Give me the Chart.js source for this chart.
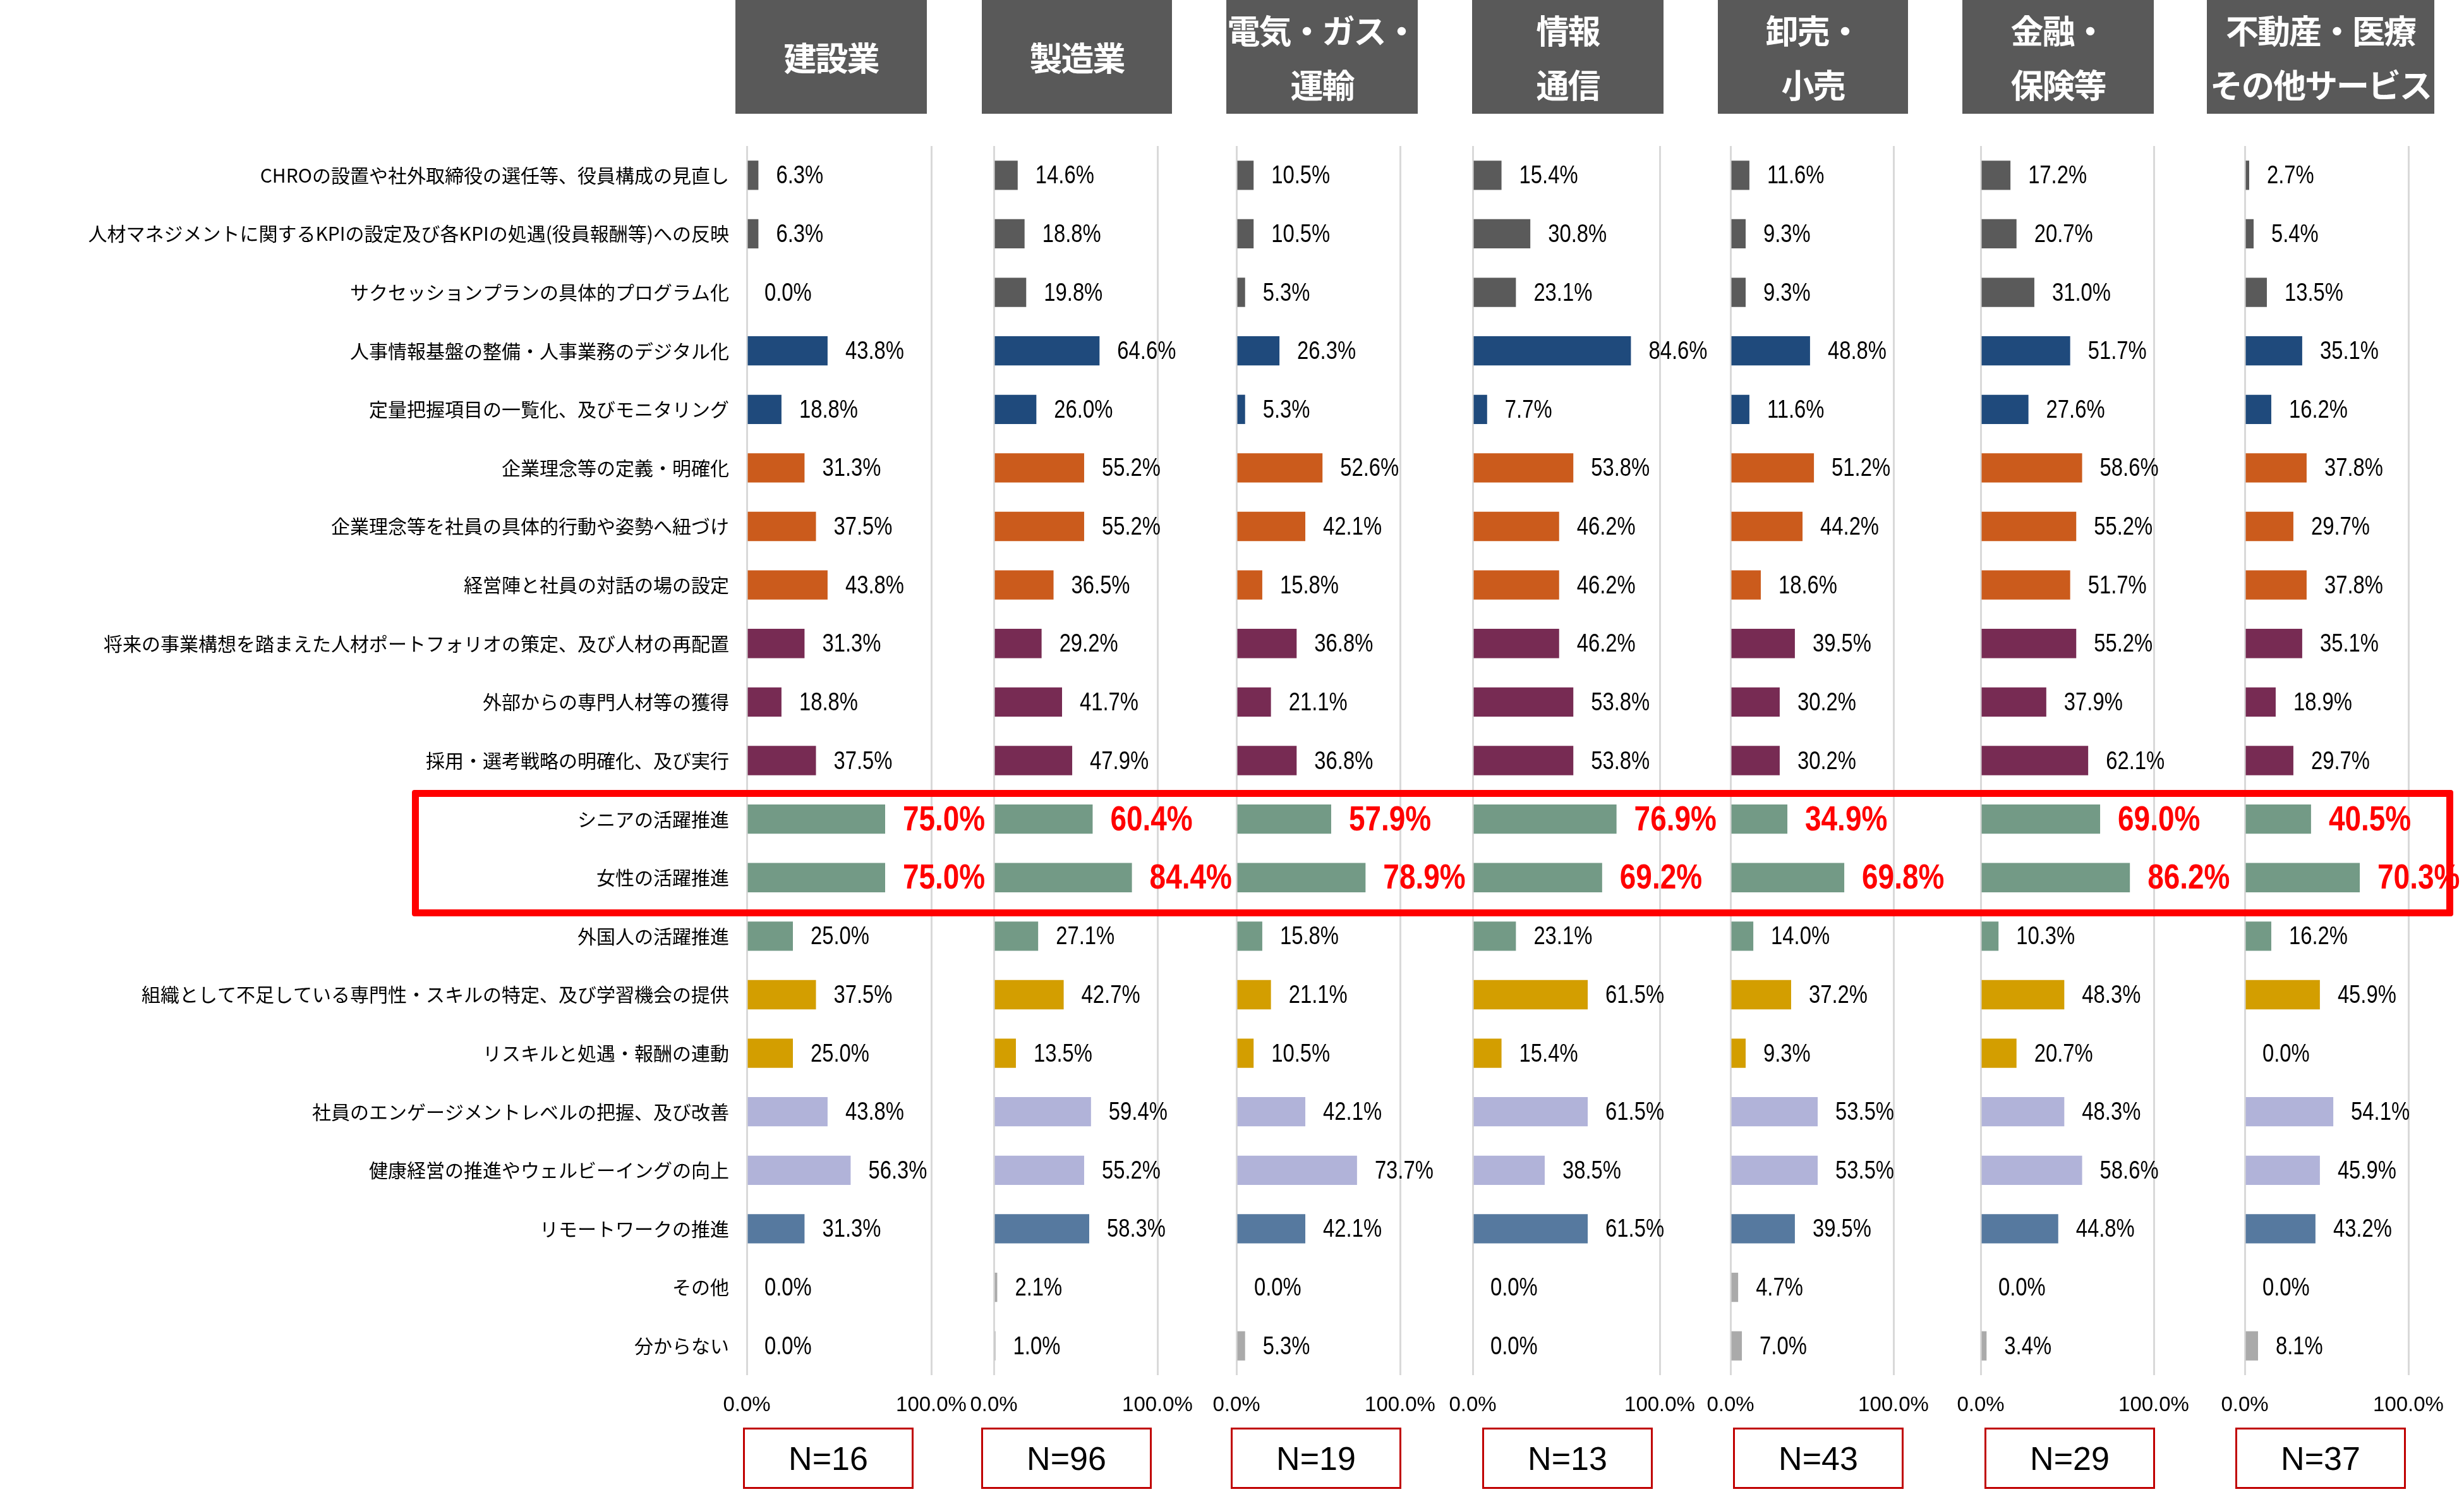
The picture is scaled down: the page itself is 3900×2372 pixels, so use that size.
<!DOCTYPE html>
<html>
<head>
<meta charset="utf-8">
<script src="https://cdn.jsdelivr.net/npm/chart.js@4.4.0/dist/chart.umd.min.js"></script>
<style>
  body { margin: 0; background: #fff; }
  #wrap { position: relative; width: 3900px; height: 2372px; overflow: hidden; background: #fff; }
  #wrap canvas { position: absolute; }
  .head {
    position: absolute; top: 0; height: 180px; background: #595959; color: #fff;
    font-family: 'Noto Sans CJK JP', sans-serif; font-weight: bold; font-size: 52px; line-height: 86px; letter-spacing: -2px;
    display: flex; flex-direction: column; justify-content: center; align-items: center; white-space: nowrap;
  }
  .nbox {
    position: absolute; top: 2259px; width: 270px; height: 97px; box-sizing: border-box;
    border: 3px solid #c00000; color: #000;
    font-family: 'Liberation Sans', Arial, sans-serif; font-size: 52px;
    display: flex; align-items: center; justify-content: center;
  }
  #redbox { position: absolute; left: 652px; top: 1250px; width: 3231px; height: 200px; box-sizing: border-box; border: 11px solid #ff0000; border-radius: 4px; }
</style>
</head>
<body>
<div id="wrap"><div id="redbox"></div></div>
<script>
// 施策の項目
const categories = [
  'CHROの設置や社外取締役の選任等、役員構成の見直し',
  '人材マネジメントに関するKPIの設定及び各KPIの処遇(役員報酬等)への反映',
  'サクセッションプランの具体的プログラム化',
  '人事情報基盤の整備・人事業務のデジタル化',
  '定量把握項目の一覧化、及びモニタリング',
  '企業理念等の定義・明確化',
  '企業理念等を社員の具体的行動や姿勢へ紐づけ',
  '経営陣と社員の対話の場の設定',
  '将来の事業構想を踏まえた人材ポートフォリオの策定、及び人材の再配置',
  '外部からの専門人材等の獲得',
  '採用・選考戦略の明確化、及び実行',
  'シニアの活躍推進',
  '女性の活躍推進',
  '外国人の活躍推進',
  '組織として不足している専門性・スキルの特定、及び学習機会の提供',
  'リスキルと処遇・報酬の連動',
  '社員のエンゲージメントレベルの把握、及び改善',
  '健康経営の推進やウェルビーイングの向上',
  'リモートワークの推進',
  'その他',
  '分からない'
];

const industries = [['建設業'], ['製造業'], ['電気・ガス・', '運輸'], ['情報', '通信'], ['卸売・', '小売'], ['金融・', '保険等'], ['不動産・医療', 'その他サービス']];
const sampleSizes = [16, 96, 19, 13, 43, 29, 37];

// 業種別の回答割合(%)
const kensetsu = [6.3, 6.3, 0.0, 43.8, 18.8, 31.3, 37.5, 43.8, 31.3, 18.8, 37.5, 75.0, 75.0, 25.0, 37.5, 25.0, 43.8, 56.3, 31.3, 0.0, 0.0];
const seizo    = [14.6, 18.8, 19.8, 64.6, 26.0, 55.2, 55.2, 36.5, 29.2, 41.7, 47.9, 60.4, 84.4, 27.1, 42.7, 13.5, 59.4, 55.2, 58.3, 2.1, 1.0];
const denki    = [10.5, 10.5, 5.3, 26.3, 5.3, 52.6, 42.1, 15.8, 36.8, 21.1, 36.8, 57.9, 78.9, 15.8, 21.1, 10.5, 42.1, 73.7, 42.1, 0.0, 5.3];
const joho     = [15.4, 30.8, 23.1, 84.6, 7.7, 53.8, 46.2, 46.2, 46.2, 53.8, 53.8, 76.9, 69.2, 23.1, 61.5, 15.4, 61.5, 38.5, 61.5, 0.0, 0.0];
const oroshi   = [11.6, 9.3, 9.3, 48.8, 11.6, 51.2, 44.2, 18.6, 39.5, 30.2, 30.2, 34.9, 69.8, 14.0, 37.2, 9.3, 53.5, 53.5, 39.5, 4.7, 7.0];
const kinyu    = [17.2, 20.7, 31.0, 51.7, 27.6, 58.6, 55.2, 51.7, 55.2, 37.9, 62.1, 69.0, 86.2, 10.3, 48.3, 20.7, 48.3, 58.6, 44.8, 0.0, 3.4];
const fudosan  = [2.7, 5.4, 13.5, 35.1, 16.2, 37.8, 29.7, 37.8, 35.1, 18.9, 29.7, 40.5, 70.3, 16.2, 45.9, 0.0, 54.1, 45.9, 43.2, 0.0, 8.1];
const panels = [kensetsu, seizo, denki, joho, oroshi, kinyu, fudosan];

const highlightRows = ['シニアの活躍推進', '女性の活躍推進'];
const xMin = 0, xMax = 100;

// 見た目
const rowColors = [
  '#5a5a5a', '#5a5a5a', '#5a5a5a',
  '#1f4a7c', '#1f4a7c',
  '#cb5b1c', '#cb5b1c', '#cb5b1c',
  '#772b53', '#772b53', '#772b53',
  '#739a86', '#739a86', '#739a86',
  '#d39e00', '#d39e00',
  '#b1b3d9', '#b1b3d9',
  '#56799f',
  '#aaaaaa', '#aaaaaa'
];
const NUM_FONT = "'Liberation Sans', Arial, sans-serif";
const NARROW = 0.82;   // 数値ラベルは縦長の書体なので横を詰める
const plotLeft  = [1182, 1573, 1957, 2331, 2739, 3135, 3553];
const plotRight = [1474, 1832, 2216, 2627, 2997, 3409, 3812];
const headLeft  = [1164, 1554, 1941, 2330, 2719, 3106, 3493];
const headRight = [1467, 1855, 2244, 2633, 3020, 3409, 3853];
const nLeft     = [1176, 1553, 1948, 2346, 2743, 3141, 3538];

const wrap = document.getElementById('wrap');

const valueLabels = {
  id: 'valueLabels',
  afterDatasetsDraw(chart) {
    const ctx = chart.ctx;
    const vals = chart.data.datasets[0].data;
    chart.getDatasetMeta(0).data.forEach((bar, k) => {
      const hot = highlightRows.includes(categories[k]);
      ctx.save();
      ctx.textAlign = 'left';
      ctx.textBaseline = 'middle';
      ctx.font = hot ? 'bold 56px ' + NUM_FONT : '40px ' + NUM_FONT;
      ctx.fillStyle = hot ? '#ff0000' : '#000000';
      ctx.translate(bar.x + 28, bar.y + 2);
      ctx.scale(NARROW, 1);
      ctx.fillText(vals[k].toFixed(1) + '%', 0, 0);
      ctx.restore();
    });
  }
};

panels.forEach((vals, i) => {
  // header
  const h = document.createElement('div');
  h.className = 'head';
  h.style.left = headLeft[i] + 'px';
  h.style.width = (headRight[i] - headLeft[i]) + 'px';
  industries[i].forEach(t => {
    const s = document.createElement('div');
    s.textContent = t;
    h.appendChild(s);
  });
  wrap.appendChild(h);

  // N box
  const n = document.createElement('div');
  n.className = 'nbox';
  n.style.left = nLeft[i] + 'px';
  n.textContent = 'N=' + sampleSizes[i];
  wrap.appendChild(n);

  // chart
  const first = i === 0;
  const padL = first ? 0 : 70;
  const padR = Math.min(170, 3900 - plotRight[i]);
  const left = first ? 0 : plotLeft[i] - padL;
  const cv = document.createElement('canvas');
  cv.width = plotRight[i] + padR - left;
  cv.height = 2060;
  cv.style.left = left + 'px';
  cv.style.top = '200px';
  wrap.appendChild(cv);

  const yAxis = {
    display: first,
    ticks: {
      autoSkip: false,
      padding: 28,
      color: '#000',
      font: { family: "'Noto Sans CJK JP', sans-serif", size: 30 }
    },
    grid: { display: false, drawTicks: false },
    border: { display: false }
  };
  if (first) {
    yAxis.afterFit = s => {
      s.width = plotLeft[0];
      s.paddingTop = 0;
      s.paddingBottom = 0;
    };
  }

  new Chart(cv.getContext('2d'), {
    type: 'bar',
    data: {
      labels: categories,
      datasets: [{
        data: vals,
        backgroundColor: rowColors,
        barPercentage: 0.5,
        categoryPercentage: 1.0
      }]
    },
    options: {
      indexAxis: 'y',
      responsive: false,
      animation: false,
      devicePixelRatio: 1,
      layout: { padding: { left: padL, right: padR, top: 31, bottom: 0 } },
      plugins: { legend: { display: false }, tooltip: { enabled: false } },
      scales: {
        x: {
          type: 'linear',
          min: xMin,
          max: xMax,
          ticks: {
            stepSize: 100,
            autoSkip: false,
            maxRotation: 0,
            padding: 28,
            color: '#000',
            font: { family: NUM_FONT, size: 33 },
            callback: v => v.toFixed(1) + '%'
          },
          grid: { color: '#d9d9d9', lineWidth: 3, drawTicks: false },
          border: { display: false },
          afterFit: s => { s.height = 84; }
        },
        y: yAxis
      }
    },
    plugins: [valueLabels]
  });
});

// keep the highlight frame above the canvases
wrap.appendChild(document.getElementById('redbox'));
</script>
</body>
</html>
